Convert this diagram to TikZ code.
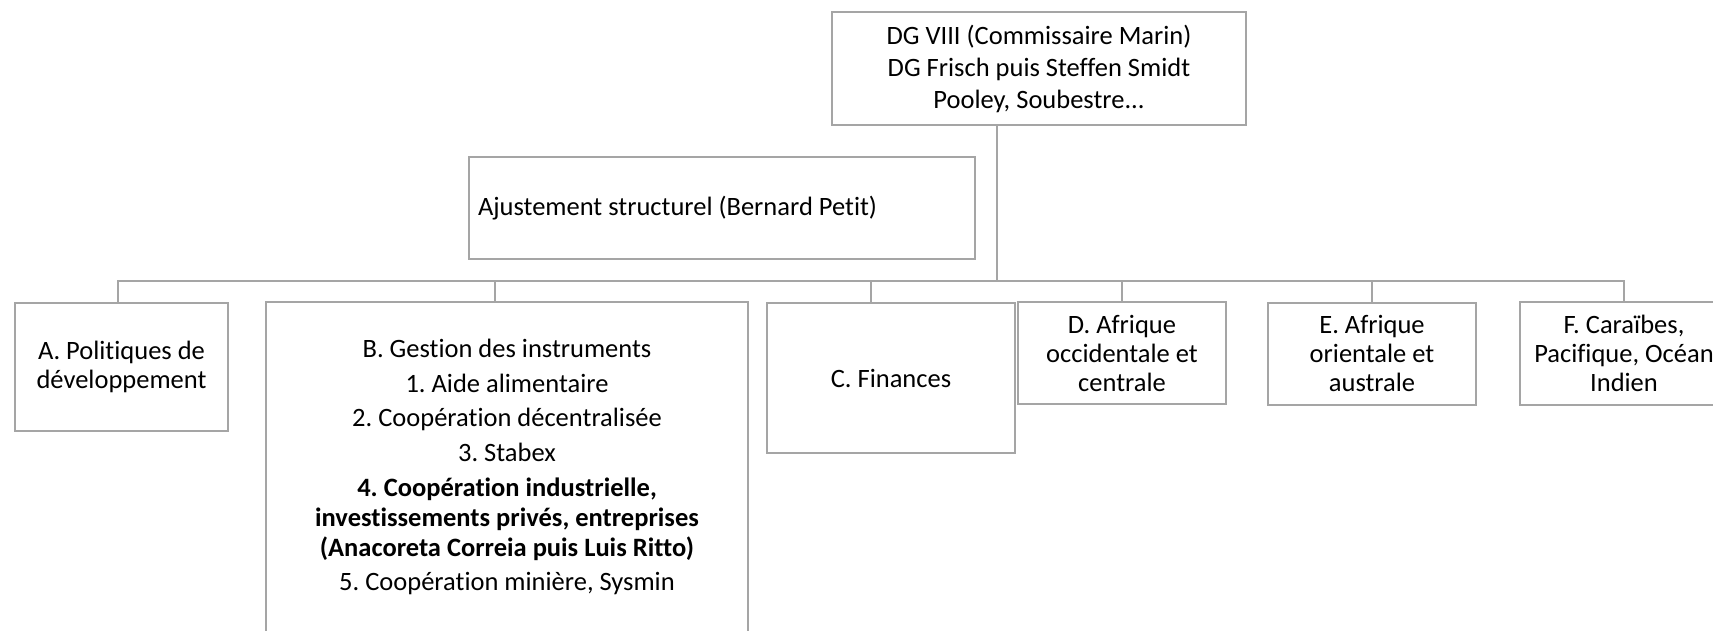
\documentclass[tikz,border=0pt]{standalone}
\usepackage{fontspec}
\setmainfont{Carlito}[Ligatures={NoCommon}]
\definecolor{linegray}{HTML}{A5A5A5}
\tikzset{
  box/.style={draw=linegray, line width=2pt, rectangle, inner sep=0pt, align=center,
    font=\fontsize{26.5}{29}\selectfont\frenchspacing, text=black},
  conn/.style={draw=linegray, line width=2pt},
  btext/.style={inner sep=0pt, align=center, font=\fontsize{26.5}{30}\selectfont\frenchspacing, text=black}
}
\begin{document}
\begin{tikzpicture}[x=1pt, y=-1pt]
\useasboundingbox (0,0) rectangle (1713,630);
\clip (0,0) rectangle (1713,630);
\fill[white] (0,0) rectangle (1713,630);

\node[box, minimum width=414pt, minimum height=113pt] (top) at (1039,68.5)
  {DG VIII (Commissaire Marin)\\[3pt] DG Frisch puis Steffen Smidt\\[3pt] Pooley, Soubestre...};
\node[box, minimum width=506pt, minimum height=102pt, inner xsep=9pt] (aj) at (722,208)
  {\makebox[488pt][l]{Ajustement structurel (Bernard Petit)}};

\node[box, minimum width=213pt, minimum height=128pt] (A) at (121.5,367)
  {A. Politiques de\\développement};
\node[box, minimum width=482pt, minimum height=400pt] (B) at (507,502) {};
\node[btext] (Bt) at (507,467)
  {B. Gestion des instruments\\[4.5pt]
   1. Aide alimentaire\\[4.5pt]
   2. Coopération décentralisée\\[4.5pt]
   3. Stabex\\[5.5pt]
   \textbf{4. Coopération industrielle,}\\
   \textbf{investissements privés, entreprises}\\
   \textbf{(Anacoreta Correia puis Luis Ritto)}\\[4pt]
   5. Coopération minière, Sysmin};
\node[box, minimum width=248pt, minimum height=150pt] (C) at (891,378) {C. Finances};
\node[box, minimum width=208pt, minimum height=102pt] (D) at (1122,353)
  {D. Afrique\\occidentale et\\centrale};
\node[box, minimum width=208pt, minimum height=102pt] (E) at (1372,353.5)
  {E. Afrique\\orientale et\\australe};
\node[box, minimum width=208pt, minimum height=103pt] (F) at (1624,353.5)
  {F. Caraïbes,\\Pacifique, Océan\\Indien};

\coordinate (jn) at (997,281);
\draw[conn] (top.south -| jn) -- (jn);
\draw[conn] (jn) -| ([xshift=-3.5pt]A.north);
\draw[conn] (jn) -| ([xshift=-12pt]B.north);
\draw[conn] (jn) -| ([xshift=-20pt]C.north);
\draw[conn] (jn) -| (D.north);
\draw[conn] (jn) -| (E.north);
\draw[conn] (jn) -| (F.north);
\end{tikzpicture}
\end{document}
